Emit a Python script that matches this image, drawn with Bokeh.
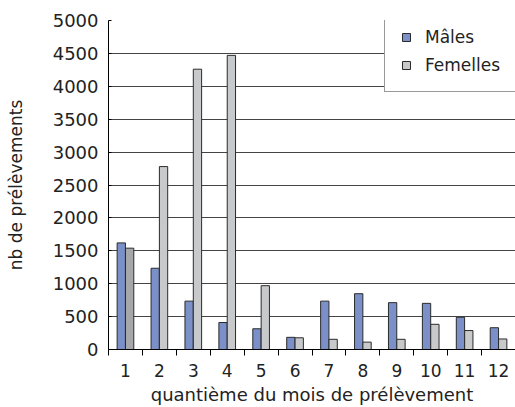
from bokeh.plotting import figure
from bokeh.models import ColumnDataSource, FixedTicker, Legend, LegendItem
from bokeh.transform import dodge
from bokeh.embed import file_html
from bokeh.resources import INLINE

months = list(range(1, 13))
month_labels = [str(m) for m in months]
males = [1620, 1235, 735, 410, 315, 185, 735, 848, 712, 701, 490, 331]
femelles = [1540, 2780, 4260, 4470, 970, 178, 155, 112, 155, 383, 288, 160]
fem_colors = ["#a6a7aa"] + ["#c8c9cb"] * 11

src = ColumnDataSource(dict(x=months, m=males, f=femelles, fc=fem_colors))

FONT = "DejaVu Sans"

p = figure(width=515, height=407, output_backend="svg", toolbar_location=None,
           x_range=(0.5, 12.5), y_range=(0, 5000),
           min_border_left=108, min_border_right=0, min_border_top=20, min_border_bottom=58)
p.outline_line_color = None
p.background_fill_color = "white"

rm = p.vbar(x=dodge("x", -0.123, range=p.x_range), top="m", width=0.245, source=src,
            fill_color="#7b8fc8", line_color="#2b2b2b", line_width=1)
rf = p.vbar(x=dodge("x", 0.123, range=p.x_range), top="f", width=0.245, source=src,
            fill_color="fc", line_color="#2b2b2b", line_width=1)

p.xaxis.ticker = FixedTicker(ticks=months, minor_ticks=[m + 0.5 for m in range(0, 13)])
p.xaxis.major_label_overrides = {m: l for m, l in zip(months, month_labels)}
p.xaxis.major_tick_line_color = None
p.xaxis.minor_tick_in = 0
p.xaxis.minor_tick_out = 6
p.xaxis.minor_tick_line_color = "black"
p.xaxis.axis_line_color = "black"
p.xaxis.major_label_standoff = 8
p.xaxis.axis_label = "quantième du mois de prélèvement"
p.xaxis.axis_label_standoff = 4

p.yaxis.ticker = FixedTicker(ticks=list(range(0, 5001, 500)))
p.yaxis.major_tick_in = 3
p.yaxis.major_tick_out = 0
p.yaxis.minor_tick_line_color = None
p.yaxis.axis_line_color = "black"
p.yaxis.major_label_standoff = 10
p.yaxis.axis_label = "nb de prélèvements"
p.yaxis.axis_label_standoff = 24

for ax in (p.xaxis, p.yaxis):
    ax.major_label_text_font = FONT
    ax.major_label_text_color = "#222222"
    ax.axis_label_text_font = FONT
    ax.axis_label_text_font_style = "normal"
    ax.axis_label_text_color = "#222222"
p.xaxis.major_label_text_font_size = "17px"
p.yaxis.major_label_text_font_size = "18px"
p.xaxis.axis_label_text_font_size = "18px"
p.yaxis.axis_label_text_font_size = "17px"

p.xgrid.grid_line_color = None
p.ygrid.ticker = FixedTicker(ticks=list(range(500, 5001, 500)))
p.ygrid.grid_line_color = "#444444"
p.ygrid.grid_line_width = 1

legend = Legend(items=[LegendItem(label="Mâles", renderers=[rm]),
                       LegendItem(label="Femelles", renderers=[rf], index=1)],
                location=(276, 257), orientation="vertical",
                label_text_font=FONT, label_text_font_size="17px", label_text_color="#222222",
                glyph_width=10, glyph_height=10, label_standoff=14,
                label_height=16, spacing=8, padding=16, margin=0,
                border_line_color="#333333", border_line_width=1,
                background_fill_color="white", background_fill_alpha=1.0)
p.add_layout(legend, "center")

open("out.html", "w").write(file_html(p, INLINE))
